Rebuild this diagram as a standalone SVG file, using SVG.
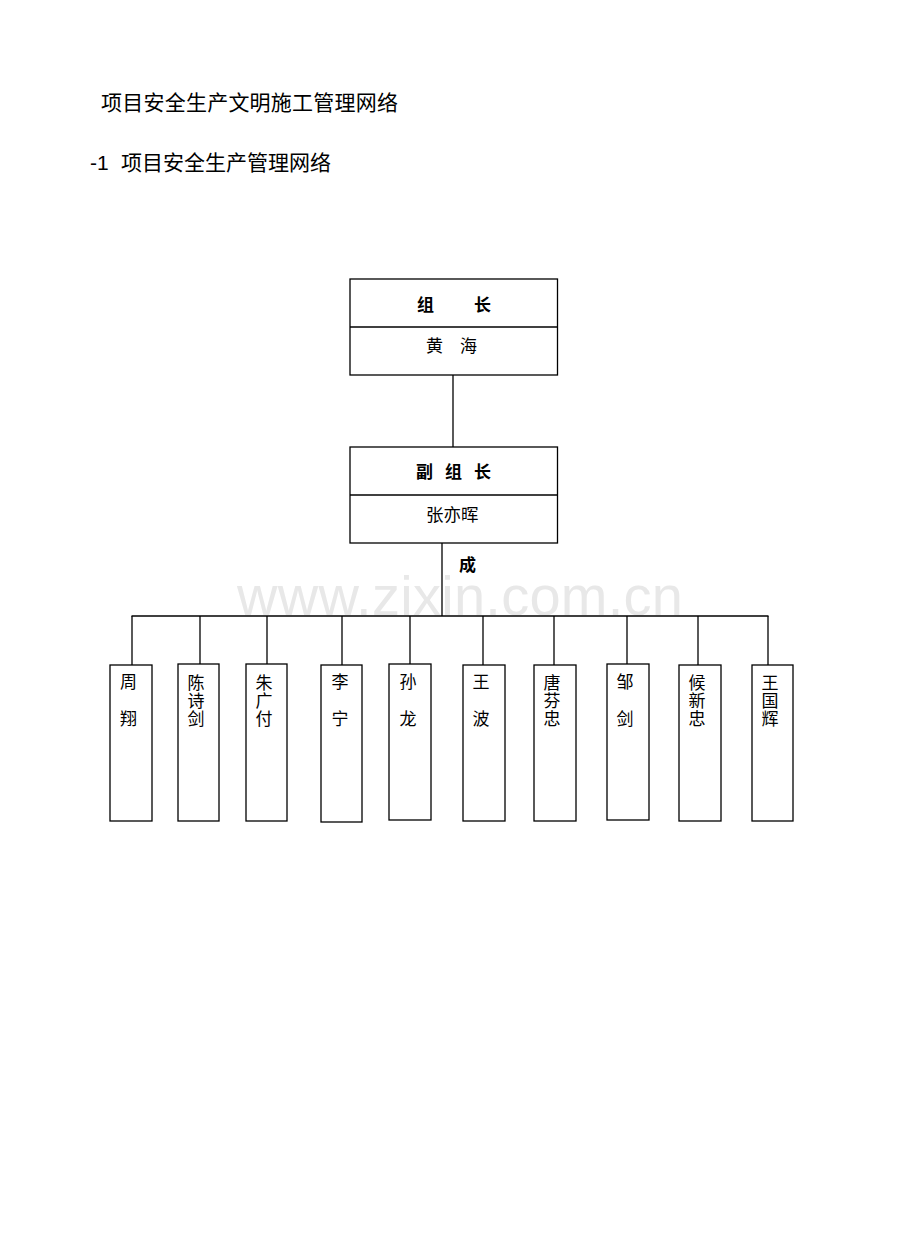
<svg xmlns="http://www.w3.org/2000/svg" width="920" height="1239" viewBox="0 0 920 1239">
<style>
.box{fill:#fff;stroke:#000;stroke-width:1.3}
.ln{stroke:#000;stroke-width:1.3;fill:none}
.t{font-family:"Liberation Sans","Noto Sans CJK SC",sans-serif;fill:#000}
.h{font-size:21px}
.b{font-size:17px;font-weight:bold}
.n{font-size:17px;text-anchor:middle}
.wm{font-family:"Liberation Sans",Arial,sans-serif;font-size:56px;fill:#e8e8e8}
</style>
<rect width="920" height="1239" fill="#fff"/>
<text class="wm" x="237" y="615" textLength="446" lengthAdjust="spacing">www.zixin.com.cn</text>
<text class="t h" x="101" y="110" textLength="297" lengthAdjust="spacing">项目安全生产文明施工管理网络</text>
<text class="t h" y="170"><tspan x="90">-1</tspan><tspan x="121">项目安全生产管理网络</tspan></text>
<g id="connectors">
<line class="ln" x1="453" y1="375" x2="453" y2="447"/>
<line class="ln" x1="442" y1="543" x2="442" y2="616"/>
<line class="ln" x1="131.5" y1="616" x2="768.5" y2="616"/>
<line class="ln" x1="132" y1="616" x2="132" y2="665"/>
<line class="ln" x1="200" y1="616" x2="200" y2="664"/>
<line class="ln" x1="267" y1="616" x2="267" y2="664"/>
<line class="ln" x1="342" y1="616" x2="342" y2="665"/>
<line class="ln" x1="410" y1="616" x2="410" y2="664"/>
<line class="ln" x1="483" y1="616" x2="483" y2="665"/>
<line class="ln" x1="554" y1="616" x2="554" y2="665"/>
<line class="ln" x1="627" y1="616" x2="627" y2="664"/>
<line class="ln" x1="698" y1="616" x2="698" y2="665"/>
<line class="ln" x1="768" y1="616" x2="768" y2="665"/>
</g>
<g id="leader">
<rect class="box" x="350" y="279" width="207.5" height="96"/>
<line class="ln" x1="350" y1="327" x2="557.5" y2="327"/>
<text class="t b" x="417" y="311">组</text>
<text class="t b" x="474" y="311">长</text>
<text class="t" style="font-size:17px" x="426" y="352">黄</text>
<text class="t" style="font-size:17px" x="460" y="352">海</text>
</g>
<g id="deputy">
<rect class="box" x="350" y="447" width="207.5" height="96"/>
<line class="ln" x1="350" y1="495" x2="557.5" y2="495"/>
<text class="t b" x="416" y="478">副</text>
<text class="t b" x="445" y="478">组</text>
<text class="t b" x="474" y="478">长</text>
<text class="t" style="font-size:17.5px" x="426" y="521">张亦晖</text>
</g>
<g id="members-label">
<text class="t b" x="459" y="571">成</text>
</g>
<g id="m1"><rect class="box" x="110" y="665" width="42" height="156"/>
<text class="t n" x="128.5"><tspan x="128.5" y="688">周</tspan><tspan x="128.5" y="725">翔</tspan></text></g>
<g id="m2"><rect class="box" x="178" y="664" width="41" height="157"/>
<text class="t n" x="196"><tspan x="196" y="689">陈</tspan><tspan x="196" y="707">诗</tspan><tspan x="196" y="725">剑</tspan></text></g>
<g id="m3"><rect class="box" x="246" y="664" width="41" height="157"/>
<text class="t n" x="264"><tspan x="264" y="689">朱</tspan><tspan x="264" y="707">广</tspan><tspan x="264" y="725">付</tspan></text></g>
<g id="m4"><rect class="box" x="321" y="665" width="41" height="157"/>
<text class="t n" x="340"><tspan x="340" y="688">李</tspan><tspan x="340" y="725">宁</tspan></text></g>
<g id="m5"><rect class="box" x="389" y="664" width="42" height="156"/>
<text class="t n" x="408"><tspan x="408" y="688">孙</tspan><tspan x="408" y="725">龙</tspan></text></g>
<g id="m6"><rect class="box" x="463" y="665" width="42" height="156"/>
<text class="t n" x="481"><tspan x="481" y="688">王</tspan><tspan x="481" y="725">波</tspan></text></g>
<g id="m7"><rect class="box" x="534" y="665" width="42" height="156"/>
<text class="t n" x="552"><tspan x="552" y="689">唐</tspan><tspan x="552" y="707">芬</tspan><tspan x="552" y="725">忠</tspan></text></g>
<g id="m8"><rect class="box" x="607" y="664" width="42" height="156"/>
<text class="t n" x="625"><tspan x="625" y="688">邹</tspan><tspan x="625" y="725">剑</tspan></text></g>
<g id="m9"><rect class="box" x="679" y="665" width="42" height="156"/>
<text class="t n" x="697"><tspan x="697" y="689">候</tspan><tspan x="697" y="707">新</tspan><tspan x="697" y="725">忠</tspan></text></g>
<g id="m10"><rect class="box" x="752" y="665" width="41" height="156"/>
<text class="t n" x="770"><tspan x="770" y="689">王</tspan><tspan x="770" y="707">国</tspan><tspan x="770" y="725">辉</tspan></text></g>
</svg>
